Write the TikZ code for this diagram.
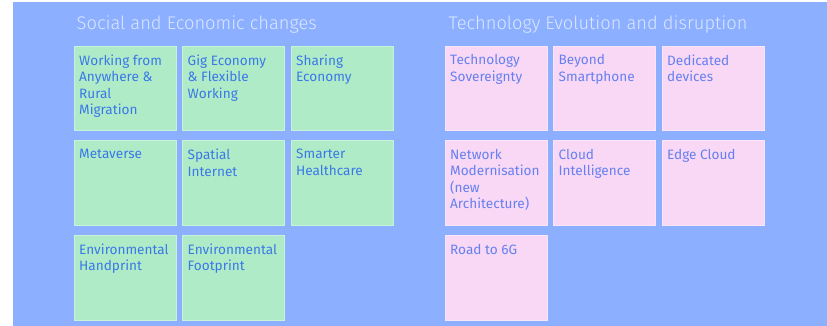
\documentclass[tikz,border=0pt]{standalone}
\usepackage{fontspec}
\setmainfont{Fira Sans}
\newfontfamily\titlefont{Fira Sans Light}
\definecolor{bgblue}{HTML}{8CB0FF}
\definecolor{boxgreen}{HTML}{B0EBC8}
\definecolor{boxpink}{HTML}{F8D8F5}
\definecolor{txtgreen}{HTML}{3A78E8}
\definecolor{txtpink}{HTML}{6680F0}
\definecolor{titlecol}{HTML}{DCE6FF}
\begin{document}
\begin{tikzpicture}[x=1pt,y=-1pt,
  gbox/.style={draw=boxgreen!70!white,line width=0.6pt,fill=boxgreen,minimum width=102pt,minimum height=84.5pt,inner sep=0pt,anchor=north west},
  pbox/.style={draw=boxpink!70!white,line width=0.6pt,fill=boxpink,minimum width=102pt,minimum height=84.5pt,inner sep=0pt,anchor=north west},
  glabel/.style={anchor=north west,inner sep=0pt,align=left,text=txtgreen,font=\fontsize{13.6}{16.5}\selectfont},
  plabel/.style={anchor=north west,inner sep=0pt,align=left,text=txtpink,font=\fontsize{13.6}{16.5}\selectfont},
  ttl/.style={anchor=base west,inner sep=0pt,text=titlecol,font=\titlefont\fontsize{18.3}{22}\selectfont}]
\useasboundingbox (0,0) rectangle (827,326);
\fill[white] (0,0) rectangle (827,326);
\fill[bgblue] (13,2) rectangle (827,326);
% titles
\node[ttl] (t1) at (76.5,29.3) {Social and Economic changes};
\node[ttl] (t2) at (448.5,29.3) {Technology Evolution and disruption};
% green boxes
\node[gbox] (g1) at (73.5,45.7) {};
\node[gbox] (g2) at (182,45.7) {};
\node[gbox] (g3) at (290.5,45.7) {};
\node[gbox] (g4) at (73.5,140.2) {};
\node[gbox] (g5) at (182,140.2) {};
\node[gbox] (g6) at (290.5,140.2) {};
\node[gbox] (g7) at (73.5,235) {};
\node[gbox] (g8) at (182,235) {};
% pink boxes
\node[pbox] (p1) at (444.5,45.7) {};
\node[pbox] (p2) at (553,45.7) {};
\node[pbox] (p3) at (661.5,45.7) {};
\node[pbox] (p4) at (444.5,140.2) {};
\node[pbox] (p5) at (553,140.2) {};
\node[pbox] (p6) at (661.5,140.2) {};
\node[pbox] (p7) at (444.5,235) {};
% labels
\node[glabel] (lg1) at ([xshift=5.5pt,yshift=-8.6pt]g1.north west) {Working from\\Anywhere \&\\Rural\\Migration};
\node[glabel] (lg2) at ([xshift=5.5pt,yshift=-8.6pt]g2.north west) {Gig Economy\\\& Flexible\\Working};
\node[glabel] (lg3) at ([xshift=5.5pt,yshift=-8.6pt]g3.north west) {Sharing\\Economy};
\node[glabel] (lg4) at ([xshift=5.5pt,yshift=-8.6pt]g4.north west) {Metaverse};
\node[glabel] (lg5) at ([xshift=5.5pt,yshift=-8.6pt]g5.north west) {Spatial\\Internet};
\node[glabel] (lg6) at ([xshift=5.5pt,yshift=-8.6pt]g6.north west) {Smarter\\Healthcare};
\node[glabel] (lg7) at ([xshift=5.5pt,yshift=-8.6pt]g7.north west) {Environmental\\Handprint};
\node[glabel] (lg8) at ([xshift=5.5pt,yshift=-8.6pt]g8.north west) {Environmental\\Footprint};
\node[plabel] (lp1) at ([xshift=5.5pt,yshift=-8.6pt]p1.north west) {Technology\\Sovereignty};
\node[plabel] (lp2) at ([xshift=5.5pt,yshift=-8.6pt]p2.north west) {Beyond\\Smartphone};
\node[plabel] (lp3) at ([xshift=5.5pt,yshift=-8.6pt]p3.north west) {Dedicated\\devices};
\node[plabel] (lp4) at ([xshift=5.5pt,yshift=-8.6pt]p4.north west) {Network\\Modernisation\\(new\\Architecture)};
\node[plabel] (lp5) at ([xshift=5.5pt,yshift=-8.6pt]p5.north west) {Cloud\\Intelligence};
\node[plabel] (lp6) at ([xshift=5.5pt,yshift=-8.6pt]p6.north west) {Edge Cloud};
\node[plabel] (lp7) at ([xshift=5.5pt,yshift=-8.6pt]p7.north west) {Road to 6G};
\end{tikzpicture}
\end{document}
